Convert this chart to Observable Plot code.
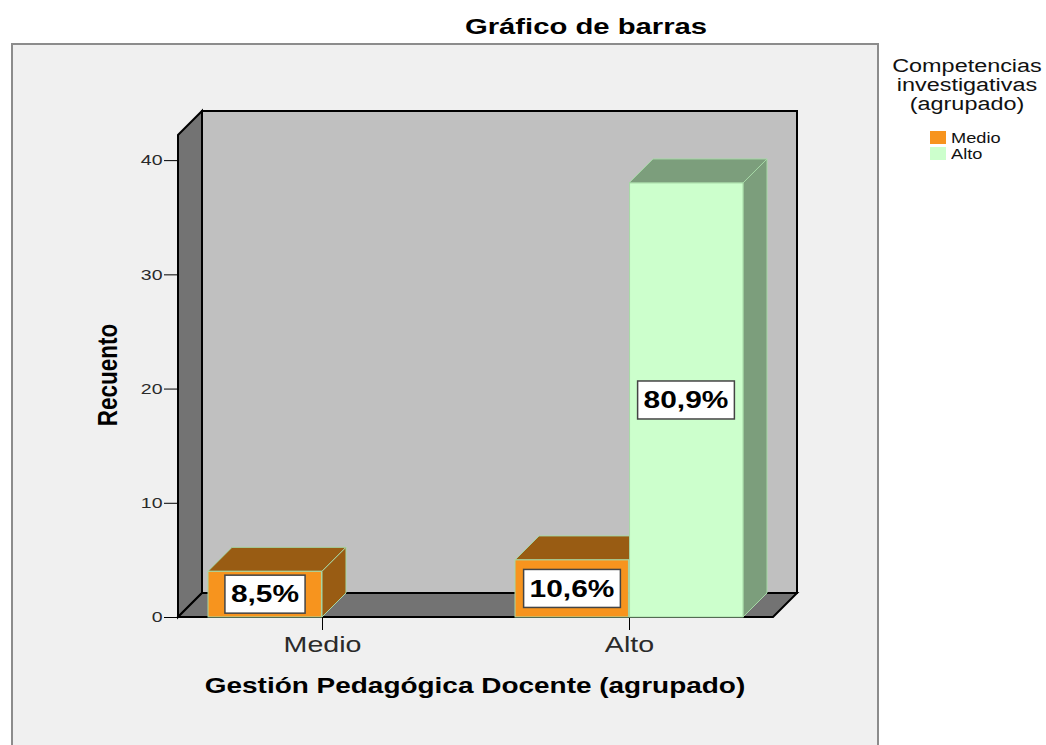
<!DOCTYPE html>
<html><head><meta charset="utf-8">
<script src="https://cdn.jsdelivr.net/npm/d3@7"></script>
<script src="https://cdn.jsdelivr.net/npm/@observablehq/plot@0.6"></script>
<style>
html,body{margin:0;padding:0;background:#fff;width:1046px;height:745px;overflow:hidden;font-family:'Liberation Sans',Arial,sans-serif;}
#frame{position:absolute;left:11px;top:43px;width:864px;height:760px;border:2px solid #8c8c8c;background:#f0f0f0;}
#chart{position:absolute;left:0;top:0;}
.t{position:absolute;white-space:nowrap;line-height:1;color:#000;}
.sw{position:absolute;width:16px;height:13px;}
</style></head><body>
<div id="frame"></div>
<div id="chart"></div>
<div class="t" style="left:586px;top:15.7px;font-size:22.5px;font-weight:bold;transform:translateX(-50%) scaleX(1.3);">Gráfico de barras</div>
<div class="t" style="left:475px;top:675.8px;font-size:21.5px;font-weight:bold;transform:translateX(-50%) scaleX(1.3);">Gestión Pedagógica Docente (agrupado)</div>
<div class="t" style="left:109px;top:375px;font-size:22.5px;font-weight:bold;transform:translate(-50%,-50%) scaleX(1.2) rotate(-90deg);">Recuento</div>
<div class="t" id="legtitle" style="left:967px;top:57.3px;font-size:18px;line-height:19px;text-align:center;color:#111;transform:translateX(-50%) scaleX(1.3);"></div>
<div id="legitems"></div>
<script>
// ---- data ----
const groups = ["Medio", "Alto"];            // Gestión Pedagógica Docente (agrupado)
const seriesNames = ["Medio", "Alto"];       // Competencias investigativas (agrupado)
const countsSerieMedio = [4, 5];             // count per group, series "Medio"
const countsSerieAlto = [0, 38];             // count per group, series "Alto"
const yTicks = [0, 10, 20, 30, 40];
const yMax = 42.2;
const legendTitle = ["Competencias", "investigativas", "(agrupado)"];

// ---- styles / layout ----
const W = 1046, H = 745;
const M = {left: 178, right: W - 773, top: 135, bottom: H - 617};
const DEPTH = 24, STRETCH = 1.3;
const PI = 0.256, PO = 0.094;
const fillFront = {Medio: "#f7941e", Alto: "#ccffcc"};
const fillDark = {Medio: "#995c13", Alto: "#7c9e7c"};
const barEdge = "#a6d8a6";

const rows = [];
groups.forEach((g, i) => {
  rows.push({group: g, series: seriesNames[0], count: countsSerieMedio[i]});
  rows.push({group: g, series: seriesNames[1], count: countsSerieAlto[i]});
});
const total = d3.sum(rows, d => d.count);
const bars = rows.filter(d => d.count > 0);
bars.forEach(d => d.label = (d.count / total * 100).toFixed(1).replace(".", ",") + "%");

let bw;
try {
  bw = Plot.scale({x: {type: "band", domain: groups, range: [M.left, W - M.right], paddingInner: PI, paddingOuter: PO}}).bandwidth;
} catch (e) {}
if (!bw) { const step = (W - M.right - M.left) / (groups.length - PI + 2 * PO); bw = step * (1 - PI); }

function polyStr(pts) { return pts.map(p => p[0] + "," + p[1]).join(" "); }

function walls(index, scales, values, dim) {
  const x0 = dim.marginLeft, x1 = dim.width - dim.marginRight;
  const yb = scales.y(0), yt = scales.y(yMax), d = DEPTH;
  const g = d3.create("svg:g").attr("class", "custom");
  const add = (pts, fill) => g.append("polygon").attr("points", polyStr(pts)).attr("fill", fill)
    .attr("stroke", "#000").attr("stroke-width", 2).attr("stroke-linejoin", "miter");
  add([[x0 + d, yt - d], [x1 + d, yt - d], [x1 + d, yb - d], [x0 + d, yb - d]], "#c0c0c0");
  add([[x0, yb], [x0, yt], [x0 + d, yt - d], [x0 + d, yb - d]], "#737373");
  add([[x0, yb], [x1, yb], [x1 + d, yb - d], [x0 + d, yb - d]], "#737373");
  return g.node();
}

function barX(scales, d) {
  const b = scales.x.bandwidth ? scales.x.bandwidth() : bw;
  const xs = scales.x(d.group) + seriesNames.indexOf(d.series) * b / 2;
  return [xs, xs + b / 2];
}

function faces(index, scales, values, dim) {
  const g = d3.create("svg:g").attr("class", "custom");
  const dd = DEPTH;
  for (const d of bars) {
    const [xs, xe] = barX(scales, d);
    const yv = scales.y(d.count), yb = scales.y(0);
    g.append("polygon").attr("points", polyStr([[xs, yv], [xe, yv], [xe + dd, yv - dd], [xs + dd, yv - dd]]))
      .attr("fill", fillDark[d.series]).attr("stroke", barEdge).attr("stroke-width", 1);
    g.append("polygon").attr("points", polyStr([[xe, yv], [xe, yb], [xe + dd, yb - dd], [xe + dd, yv - dd]]))
      .attr("fill", fillDark[d.series]).attr("stroke", barEdge).attr("stroke-width", 1);
  }
  return g.node();
}

const ctx = document.createElement("canvas").getContext("2d");
ctx.font = "bold 23px 'Liberation Sans', Arial, sans-serif";

function labels(index, scales, values, dim) {
  const g = d3.create("svg:g").attr("class", "custom");
  for (const d of bars) {
    const [xs, xe] = barX(scales, d);
    const cx = (xs + xe) / 2, cy = (scales.y(d.count) + scales.y(0)) / 2;
    const tw = ctx.measureText(d.label).width * STRETCH;
    const bwid = tw + 12, bh = 38;
    g.append("rect").attr("x", cx - bwid / 2).attr("y", cy - bh / 2).attr("width", bwid).attr("height", bh)
      .attr("fill", "#fff").attr("stroke", "#444").attr("stroke-width", 1.5);
    g.append("text").attr("x", cx).attr("y", cy).attr("dy", "0.36em").attr("text-anchor", "middle")
      .attr("font-size", 23).attr("font-weight", "bold").attr("fill", "#000")
      .attr("font-family", "'Liberation Sans', Arial, sans-serif")
      .attr("textLength", tw).attr("lengthAdjust", "spacingAndGlyphs").text(d.label);
  }
  return g.node();
}

const plot = Plot.plot({
  width: W, height: H,
  marginLeft: M.left, marginRight: M.right, marginTop: M.top, marginBottom: M.bottom,
  style: {background: "transparent", fontFamily: "'Liberation Sans', Arial, sans-serif", color: "#000"},
  x: {type: "band", domain: groups, paddingInner: PI, paddingOuter: PO, label: null, tickSize: 13, tickPadding: 6},
  y: {domain: [0, yMax], ticks: yTicks, label: null, tickSize: 14, tickPadding: 2},
  marks: [
    walls,
    faces,
    Plot.barY(bars.filter(d => d.series === seriesNames[0]), {x: "group", y: "count", fill: fillFront[seriesNames[0]], stroke: barEdge, strokeWidth: 1, insetRight: bw / 2}),
    Plot.barY(bars.filter(d => d.series === seriesNames[1]), {x: "group", y: "count", fill: fillFront[seriesNames[1]], stroke: barEdge, strokeWidth: 1, insetLeft: bw / 2}),
    labels
  ]
});
document.getElementById("chart").append(plot);

plot.querySelectorAll("text").forEach(t => {
  if (t.closest(".custom")) return;
  const s = t.textContent.trim();
  if (groups.includes(s)) t.style.fontSize = "22px";
  else t.style.fontSize = "15px";
  t.style.fill = "#2a2a2a";
  const L = t.getComputedTextLength();
  t.setAttribute("textLength", L * STRETCH);
  t.setAttribute("lengthAdjust", "spacingAndGlyphs");
});

// legend
document.getElementById("legtitle").innerHTML = legendTitle.join("<br>");
const li = document.getElementById("legitems");
seriesNames.forEach((s, i) => {
  const sw = document.createElement("div");
  sw.className = "sw";
  sw.style.left = "930px"; sw.style.top = (131 + i * 16) + "px"; sw.style.background = fillFront[s];
  li.append(sw);
  const lb = document.createElement("div");
  lb.className = "t";
  lb.style.cssText = `left:951px;top:${131 + i * 16}px;font-size:14px;transform-origin:0 0;transform:scaleX(1.3);color:#111;`;
  lb.textContent = s;
  li.append(lb);
});
</script>
</body></html>
